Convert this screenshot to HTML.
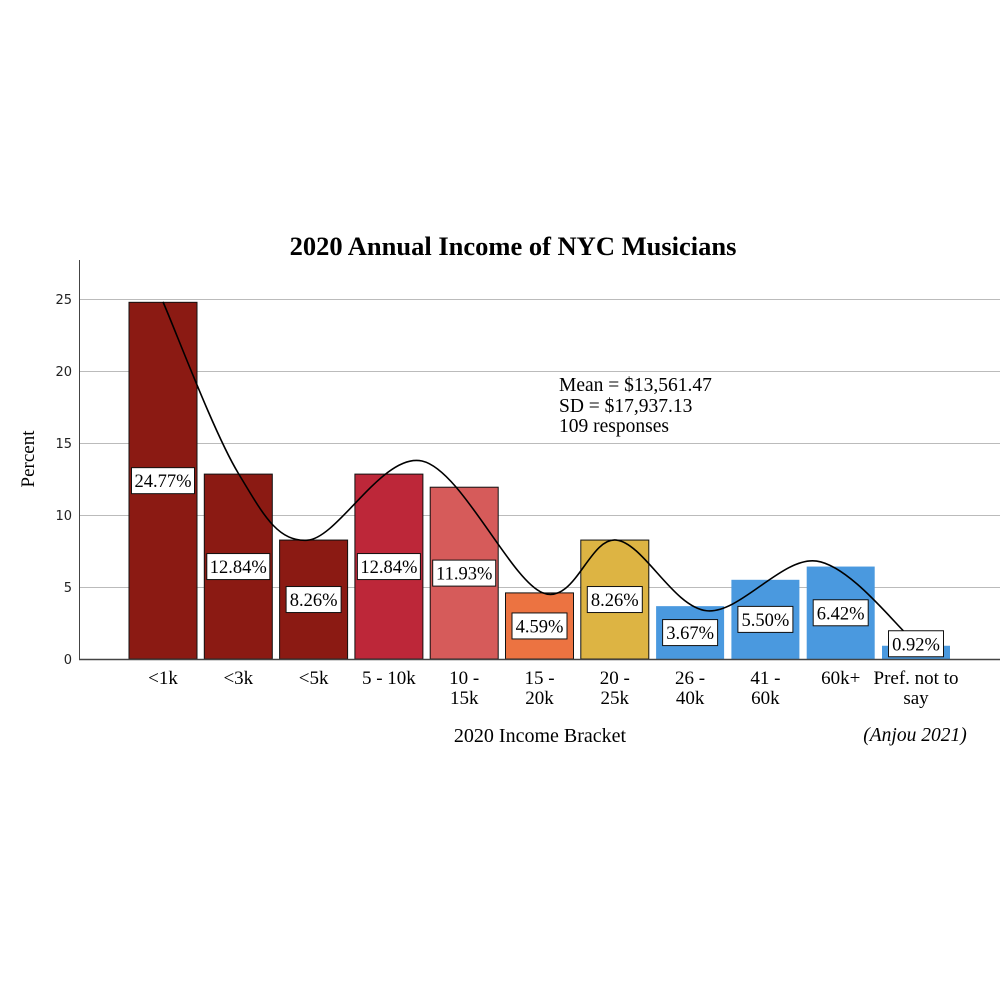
<!DOCTYPE html>
<html><head><meta charset="utf-8"><style>
body{margin:0;background:#fff}
svg{display:block}
.s{font-family:"Liberation Serif",serif}
.t{font-family:"DejaVu Sans","Liberation Sans",sans-serif}
</style></head><body>
<svg id="c" width="1000" height="1000" viewBox="0 0 1000 1000">
<rect width="1000" height="1000" fill="#fff"/>
<text class="s" x="513" y="255" text-anchor="middle" font-size="26.5" font-weight="bold">2020 Annual Income of NYC Musicians</text>
<g id="grid"></g><g id="bars"></g><g id="curve"></g><g id="labels"></g>
<line x1="79.5" y1="260" x2="79.5" y2="660" stroke="#444" stroke-width="1"/>
<line x1="79" y1="659.5" x2="1000" y2="659.5" stroke="#444" stroke-width="1.5"/>
<text class="s" transform="translate(34,459) rotate(-90)" text-anchor="middle" font-size="19">Percent</text>
<text class="s" x="540" y="742" text-anchor="middle" font-size="20">2020 Income Bracket</text>
<text class="s" x="915" y="741" text-anchor="middle" font-size="19.5" font-style="italic">(Anjou 2021)</text>
<g class="s" font-size="19.5">
<text x="559" y="391">Mean = $13,561.47</text>
<text x="559" y="412">SD = $17,937.13</text>
<text x="559" y="432">109 responses</text>
</g>
</svg>
<script>
const categories=[["<1k"],["<3k"],["<5k"],["5 - 10k"],["10 -","15k"],["15 -","20k"],["20 -","25k"],["26 -","40k"],["41 -","60k"],["60k+"],["Pref. not to","say"]];
const values=[24.77,12.84,8.26,12.84,11.93,4.59,8.26,3.67,5.50,6.42,0.92];
const colors=["#8b1a13","#8b1a13","#8b1a13","#bd2739","#d65b5a","#ec7341","#ddb443","#4a99df","#4a99df","#4a99df","#4a99df"];
const yTicks=[0,5,10,15,20,25];
const curveIdx=[0,1,1.92,3.44,5.04,6.02,7.22,8.68,9.96];
const curveVal=[24.8,12.9,8.25,13.75,4.6,8.26,3.35,6.8,1.3];
const NS="http://www.w3.org/2000/svg";
const y=v=>659-v*14.4, x=i=>163+i*75.3, bw=68;
function mk(p,t,a){const e=document.createElementNS(NS,t);for(const k in a)e.setAttribute(k,a[k]);p.appendChild(e);return e;}
const G=document.getElementById('grid'),B=document.getElementById('bars'),C=document.getElementById('curve'),L=document.getElementById('labels'),S=document.getElementById('c');
yTicks.forEach(t=>{
 if(t>0){const g=mk(G,'line',{x1:80,x2:1000,y1:y(t)+.5,y2:y(t)+.5,stroke:'#bbb','stroke-width':1});
 
 }
 const tx=mk(S,'text',{x:72,y:y(t)+5,'text-anchor':'end','font-size':13,class:'t',fill:'#222'});tx.textContent=t;
 
 
});
values.forEach((v,i)=>{
 const blue=i>=7;
 const r=mk(B,'rect',{x:x(i)-bw/2,y:y(v),width:bw,height:v*14.4,fill:colors[i],stroke:blue?'none':'#111','stroke-width':1});
 
 
 const lbl=v.toFixed(2)+'%';
 const cy=i===10?y(v)-2:(y(v)+659)/2;
 const w=lbl.length>5?63:55;
 const bx=mk(L,'rect',{x:x(i)-w/2,y:cy-13,width:w,height:26,fill:'#fff',stroke:'#111','stroke-width':1});
 
 
 const t=mk(L,'text',{x:x(i),y:cy+6.5,'text-anchor':'middle','font-size':18.5,class:'s'});t.textContent=lbl;
 
 
 categories[i].forEach((ln,j)=>{const c=mk(S,'text',{x:x(i),y:684+j*20,'text-anchor':'middle','font-size':19,class:'s'});c.textContent=ln;
 
 });
});
const P=curveIdx.map((c,i)=>[x(c),y(curveVal[i])]);
let d='M'+P[0][0]+','+P[0][1];
for(let i=0;i<P.length-1;i++){const p0=P[Math.max(0,i-1)],p1=P[i],p2=P[i+1],p3=P[Math.min(P.length-1,i+2)];
 d+=` C${p1[0]+(p2[0]-p0[0])/6},${p1[1]+(p2[1]-p0[1])/6} ${p2[0]-(p3[0]-p1[0])/6},${p2[1]-(p3[1]-p1[1])/6} ${p2[0]},${p2[1]}`;}
const cp=mk(C,'path',{d:d,fill:'none',stroke:'#000','stroke-width':1.6});


</script>
</body></html>
